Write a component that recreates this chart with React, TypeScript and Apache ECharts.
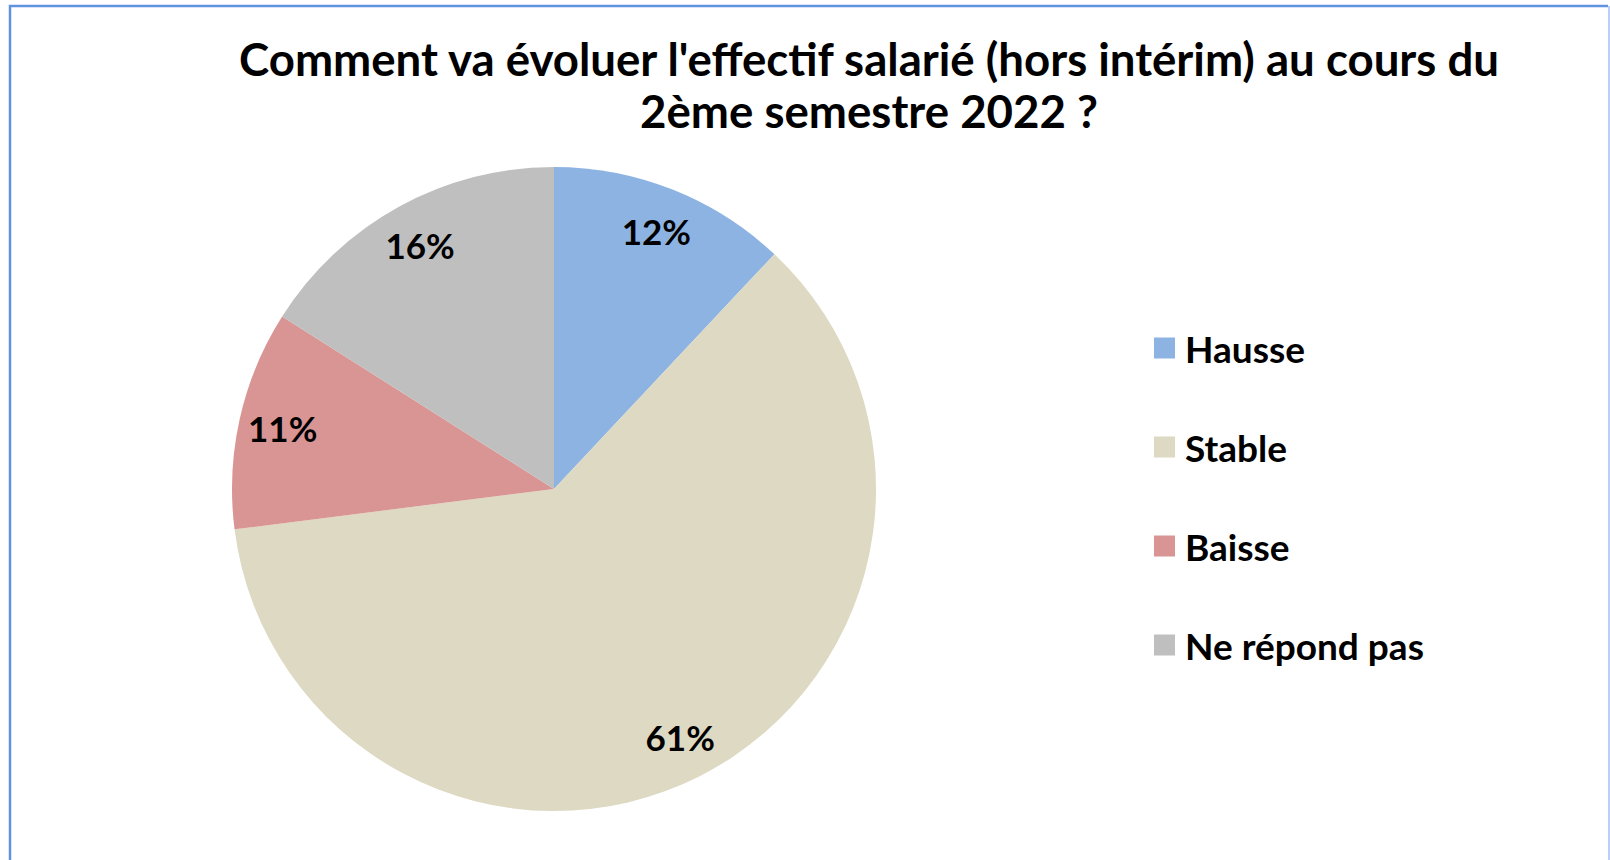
import React, { useEffect, useRef } from "react";
import * as echarts from "echarts";

const titleLines = [
  "Comment va évoluer l'effectif salarié (hors intérim) au cours du",
  "2ème semestre 2022 ?",
];
const categories = ["Hausse", "Stable", "Baisse", "Ne répond pas"];
const values = [12, 61, 11, 16];
const colors = ["#8db3e2", "#ddd9c3", "#d99594", "#bfbfbf"];

const FONT = "Lato, 'Open Sans', sans-serif";

export default function App() {
  const ref = useRef<HTMLDivElement>(null);

  useEffect(() => {
    if (!ref.current) return;
    const chart = echarts.init(ref.current, null, { renderer: "svg" });
    const data = categories.map((name, i) => ({
      name,
      value: values[i],
      itemStyle: { color: colors[i] },
    }));
    const center = [554, 489];
    chart.setOption({
      animation: false,
      backgroundColor: "#ffffff",
      legend: {
        orient: "vertical",
        left: 1154,
        top: 328,
        padding: 0,
        itemWidth: 21,
        itemHeight: 21,
        itemGap: 59,
        icon: "rect",
        selectedMode: false,
        data: categories,
        textStyle: {
          fontFamily: FONT,
          fontWeight: "bold",
          fontSize: 37,
          lineHeight: 40,
          color: "#000",
          padding: [0, 0, 0, 5],
        },
      },
      graphic: [
        {
          type: "text",
          x: 869,
          y: 58,
          style: {
            text: titleLines[0],
            align: "center",
            verticalAlign: "middle",
            fontFamily: FONT,
            fontWeight: "bold",
            fontSize: 45.6,
            fill: "#000",
          },
        },
        {
          type: "text",
          x: 869,
          y: 110,
          style: {
            text: titleLines[1],
            align: "center",
            verticalAlign: "middle",
            fontFamily: FONT,
            fontWeight: "bold",
            fontSize: 45.6,
            fill: "#000",
          },
        },
        {
          type: "polyline",
          shape: { points: [[10, 870], [10, 6], [1608, 6]] },
          style: { stroke: "#5f93e0", lineWidth: 2.5, fill: "none" },
        },
        {
          type: "line",
          shape: { x1: 1609, y1: 6, x2: 1609, y2: 870 },
          style: { stroke: "#a3c0ee", lineWidth: 1.5 },
        },
      ],
      series: [
        {
          type: "pie",
          center,
          radius: [0, 322],
          startAngle: 90,
          clockwise: true,
          silent: true,
          label: { show: false },
          labelLine: { show: false },
          itemStyle: { borderWidth: 0 },
          data,
        },
        {
          type: "pie",
          center,
          radius: [230, 320],
          startAngle: 90,
          clockwise: true,
          silent: true,
          z: 5,
          itemStyle: { color: "transparent", borderWidth: 0 },
          label: {
            show: true,
            position: "inside",
            formatter: "{c}%",
            fontFamily: FONT,
            fontWeight: "bold",
            fontSize: 35,
            color: "#000",
          },
          labelLine: { show: false },
          data: categories.map((name, i) => ({
            name,
            value: values[i],
            itemStyle: { color: "transparent" },
          })),
        },
      ],
    });
    return () => chart.dispose();
  }, []);

  return (
    <div
      ref={ref}
      style={{ position: "absolute", left: 0, top: 0, width: 1610, height: 860 }}
    />
  );
}
